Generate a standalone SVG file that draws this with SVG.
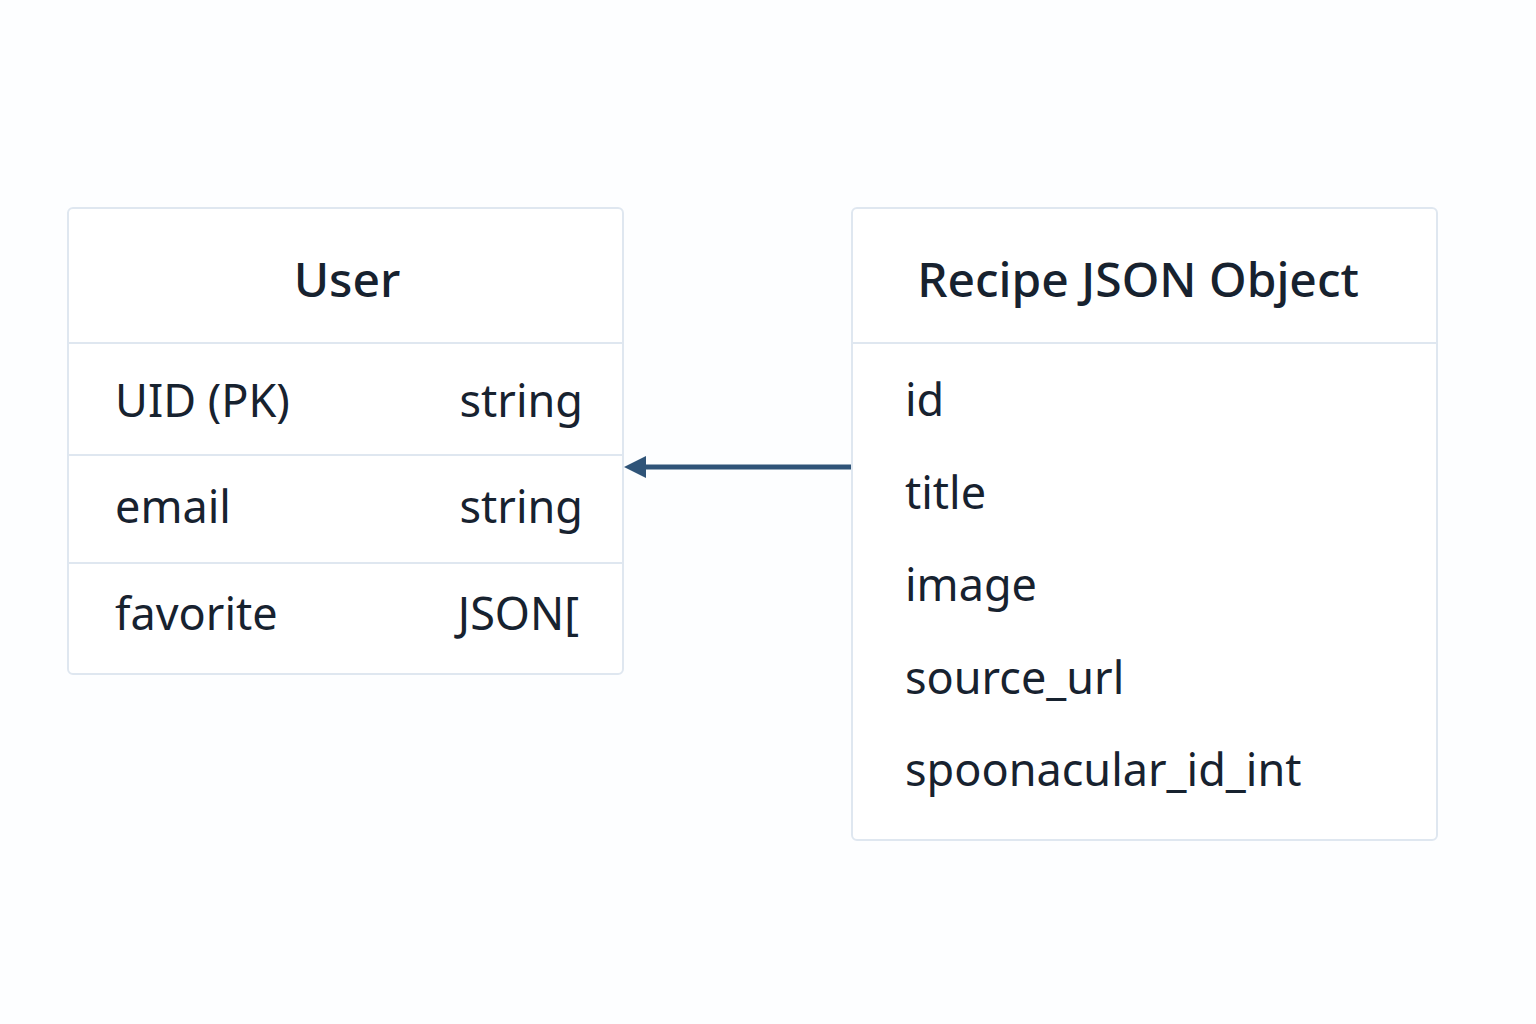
<svg xmlns="http://www.w3.org/2000/svg" width="1536" height="1024" viewBox="0 0 1536 1024">
  <style>
    .box { fill: #ffffff; stroke: #dfe7f0; stroke-width: 2; }
    .div { stroke: #dfe7f0; stroke-width: 2; }
    .title { font-family: "Noto Sans", "DejaVu Sans", sans-serif; font-size: 48px; font-weight: 500; fill: #17222f; text-anchor: middle; }
    .field { font-family: "Noto Sans", "DejaVu Sans", sans-serif; font-size: 45px; fill: #17222f; }
    .type { font-family: "Noto Sans", "DejaVu Sans", sans-serif; font-size: 45px; fill: #17222f; text-anchor: end; }
    .conn { stroke: #2f5478; stroke-width: 5; fill: none; }
  </style>
  <defs>
    <marker id="arrow" viewBox="0 0 10 10" refX="0" refY="5" markerWidth="5" markerHeight="4.4" orient="auto-start-reverse" markerUnits="strokeWidth">
      <path d="M0,0 L10,5 L0,10 z" fill="#2f5478"/>
    </marker>
  </defs>
  <rect width="1536" height="1024" fill="#fdfeff"/>

  <g id="user">
    <rect class="box" x="68" y="208" width="555" height="466" rx="5"/>
    <line class="div" x1="69" y1="343" x2="622" y2="343"/>
    <line class="div" x1="69" y1="455" x2="622" y2="455"/>
    <line class="div" x1="69" y1="563" x2="622" y2="563"/>
    <text class="title" x="347" y="297">User</text>
    <text class="field" x="115" y="417">UID (PK)</text>
    <text class="type" x="583" y="417">string</text>
    <text class="field" x="115" y="523">email</text>
    <text class="type" x="583" y="523">string</text>
    <text class="field" x="115" y="630">favorite</text>
    <text class="type" x="579" y="630">JSON[</text>
  </g>

  <g id="recipe">
    <rect class="box" x="852" y="208" width="585" height="632" rx="5"/>
    <line class="div" x1="853" y1="343" x2="1436" y2="343"/>
    <text class="title" x="1138" y="297">Recipe JSON Object</text>
    <text class="field" x="905" y="416">id</text>
    <text class="field" x="905" y="509">title</text>
    <text class="field" x="905" y="601">image</text>
    <text class="field" x="905" y="694">source_url</text>
    <text class="field" x="905" y="786">spoonacular_id_int</text>
  </g>

  <g id="connectors">
    <path class="conn" d="M851,467 L646,467" marker-end="url(#arrow)"/>
  </g>
</svg>
